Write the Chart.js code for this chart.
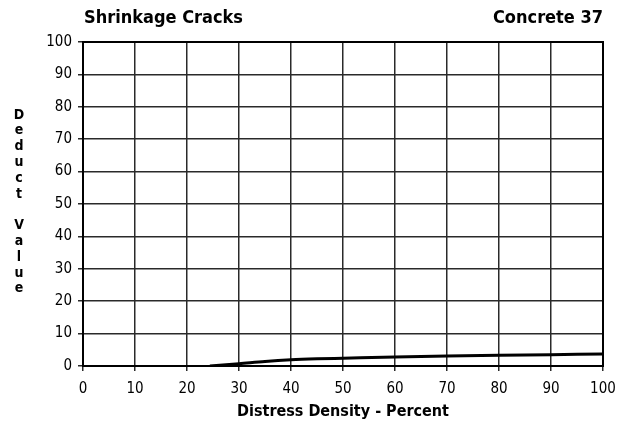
<!DOCTYPE html>
<html>
<head>
<meta charset="utf-8">
<script src="https://cdn.jsdelivr.net/npm/chart.js@4"></script>
<style>
html,body{margin:0;padding:0;background:#fff;}
#wrap{position:relative;width:618px;height:425px;}
</style>
</head>
<body>
<div id="wrap"><canvas id="c" width="618" height="425"></canvas></div>
<script>
const titleLeft = "Shrinkage Cracks";
const titleRight = "Concrete 37";
const xTitle = "Distress Density - Percent";
const yTitle = "Deduct Value";
const xTicks = [0,10,20,30,40,50,60,70,80,90,100];
const yTicks = [0,10,20,30,40,50,60,70,80,90,100];
const densityX = [24.4, 30, 35, 40, 45, 50, 60, 70, 80, 90, 100];
const deductY  = [0, 0.7, 1.4, 1.9, 2.2, 2.4, 2.8, 3.1, 3.3, 3.5, 3.7];

const pts = densityX.map((x,i)=>({x:x,y:deductY[i]}));

const FONT = "'DejaVu Sans Condensed', 'DejaVu Sans', sans-serif";

const decor = {
  id:'decor',
  afterDraw(chart){
    const ctx = chart.ctx, a = chart.chartArea;
    ctx.save();
    ctx.strokeStyle = '#000';
    ctx.lineWidth = 2;
    ctx.strokeRect(a.left, a.top, a.right-a.left, a.bottom-a.top);
    ctx.fillStyle = '#000';
    ctx.font = "bold 18px " + FONT;
    ctx.textBaseline = 'middle';
    ctx.textAlign = 'left';
    ctx.fillText(titleLeft, 84, 18);
    ctx.textAlign = 'right';
    ctx.fillText(titleRight, 603, 18);
    ctx.textAlign = 'center';
    ctx.font = "bold 16px " + FONT;
    ctx.fillText(xTitle, (a.left+a.right)/2, 412);
    ctx.font = "bold 14px " + FONT;
    let y = 115;
    for (const ch of yTitle){
      if (ch !== ' ') ctx.fillText(ch, 19, y);
      y += 15.8;
    }
    ctx.restore();
  }
};

new Chart(document.getElementById('c'), {
  type:'line',
  data:{datasets:[{data:pts, borderColor:'#000', borderWidth:3, pointRadius:0, fill:false, cubicInterpolationMode:'monotone'}]},
  options:{
    responsive:false, animation:false, devicePixelRatio:1,
    layout:{padding:{left:0,right:15,top:42,bottom:0}},
    plugins:{legend:{display:false}, tooltip:{enabled:false}},
    scales:{
      x:{type:'linear', min:0, max:100,
        afterBuildTicks(s){ s.ticks = xTicks.map(v=>({value:v})); },
        afterFit(s){ s.height = 59; s.paddingLeft = 0; s.paddingRight = 0; },
        grid:{color:'#2a2a2a', lineWidth:1.5, tickLength:5, drawTicks:true},
        border:{color:'#000', width:2},
        ticks:{color:'#000', font:{family:FONT, size:15}, padding:9, maxRotation:0, autoSkip:false}
      },
      y:{type:'linear', min:0, max:100,
        afterBuildTicks(s){ s.ticks = yTicks.map(v=>({value:v})); },
        afterFit(s){ s.width = 83; s.paddingTop = 0; s.paddingBottom = 0; },
        grid:{color:'#2a2a2a', lineWidth:1.5, tickLength:5, drawTicks:true},
        border:{color:'#000', width:2},
        ticks:{color:'#000', font:{family:FONT, size:15}, padding:6, autoSkip:false}
      }
    }
  },
  plugins:[decor]
});
</script>
</body>
</html>
